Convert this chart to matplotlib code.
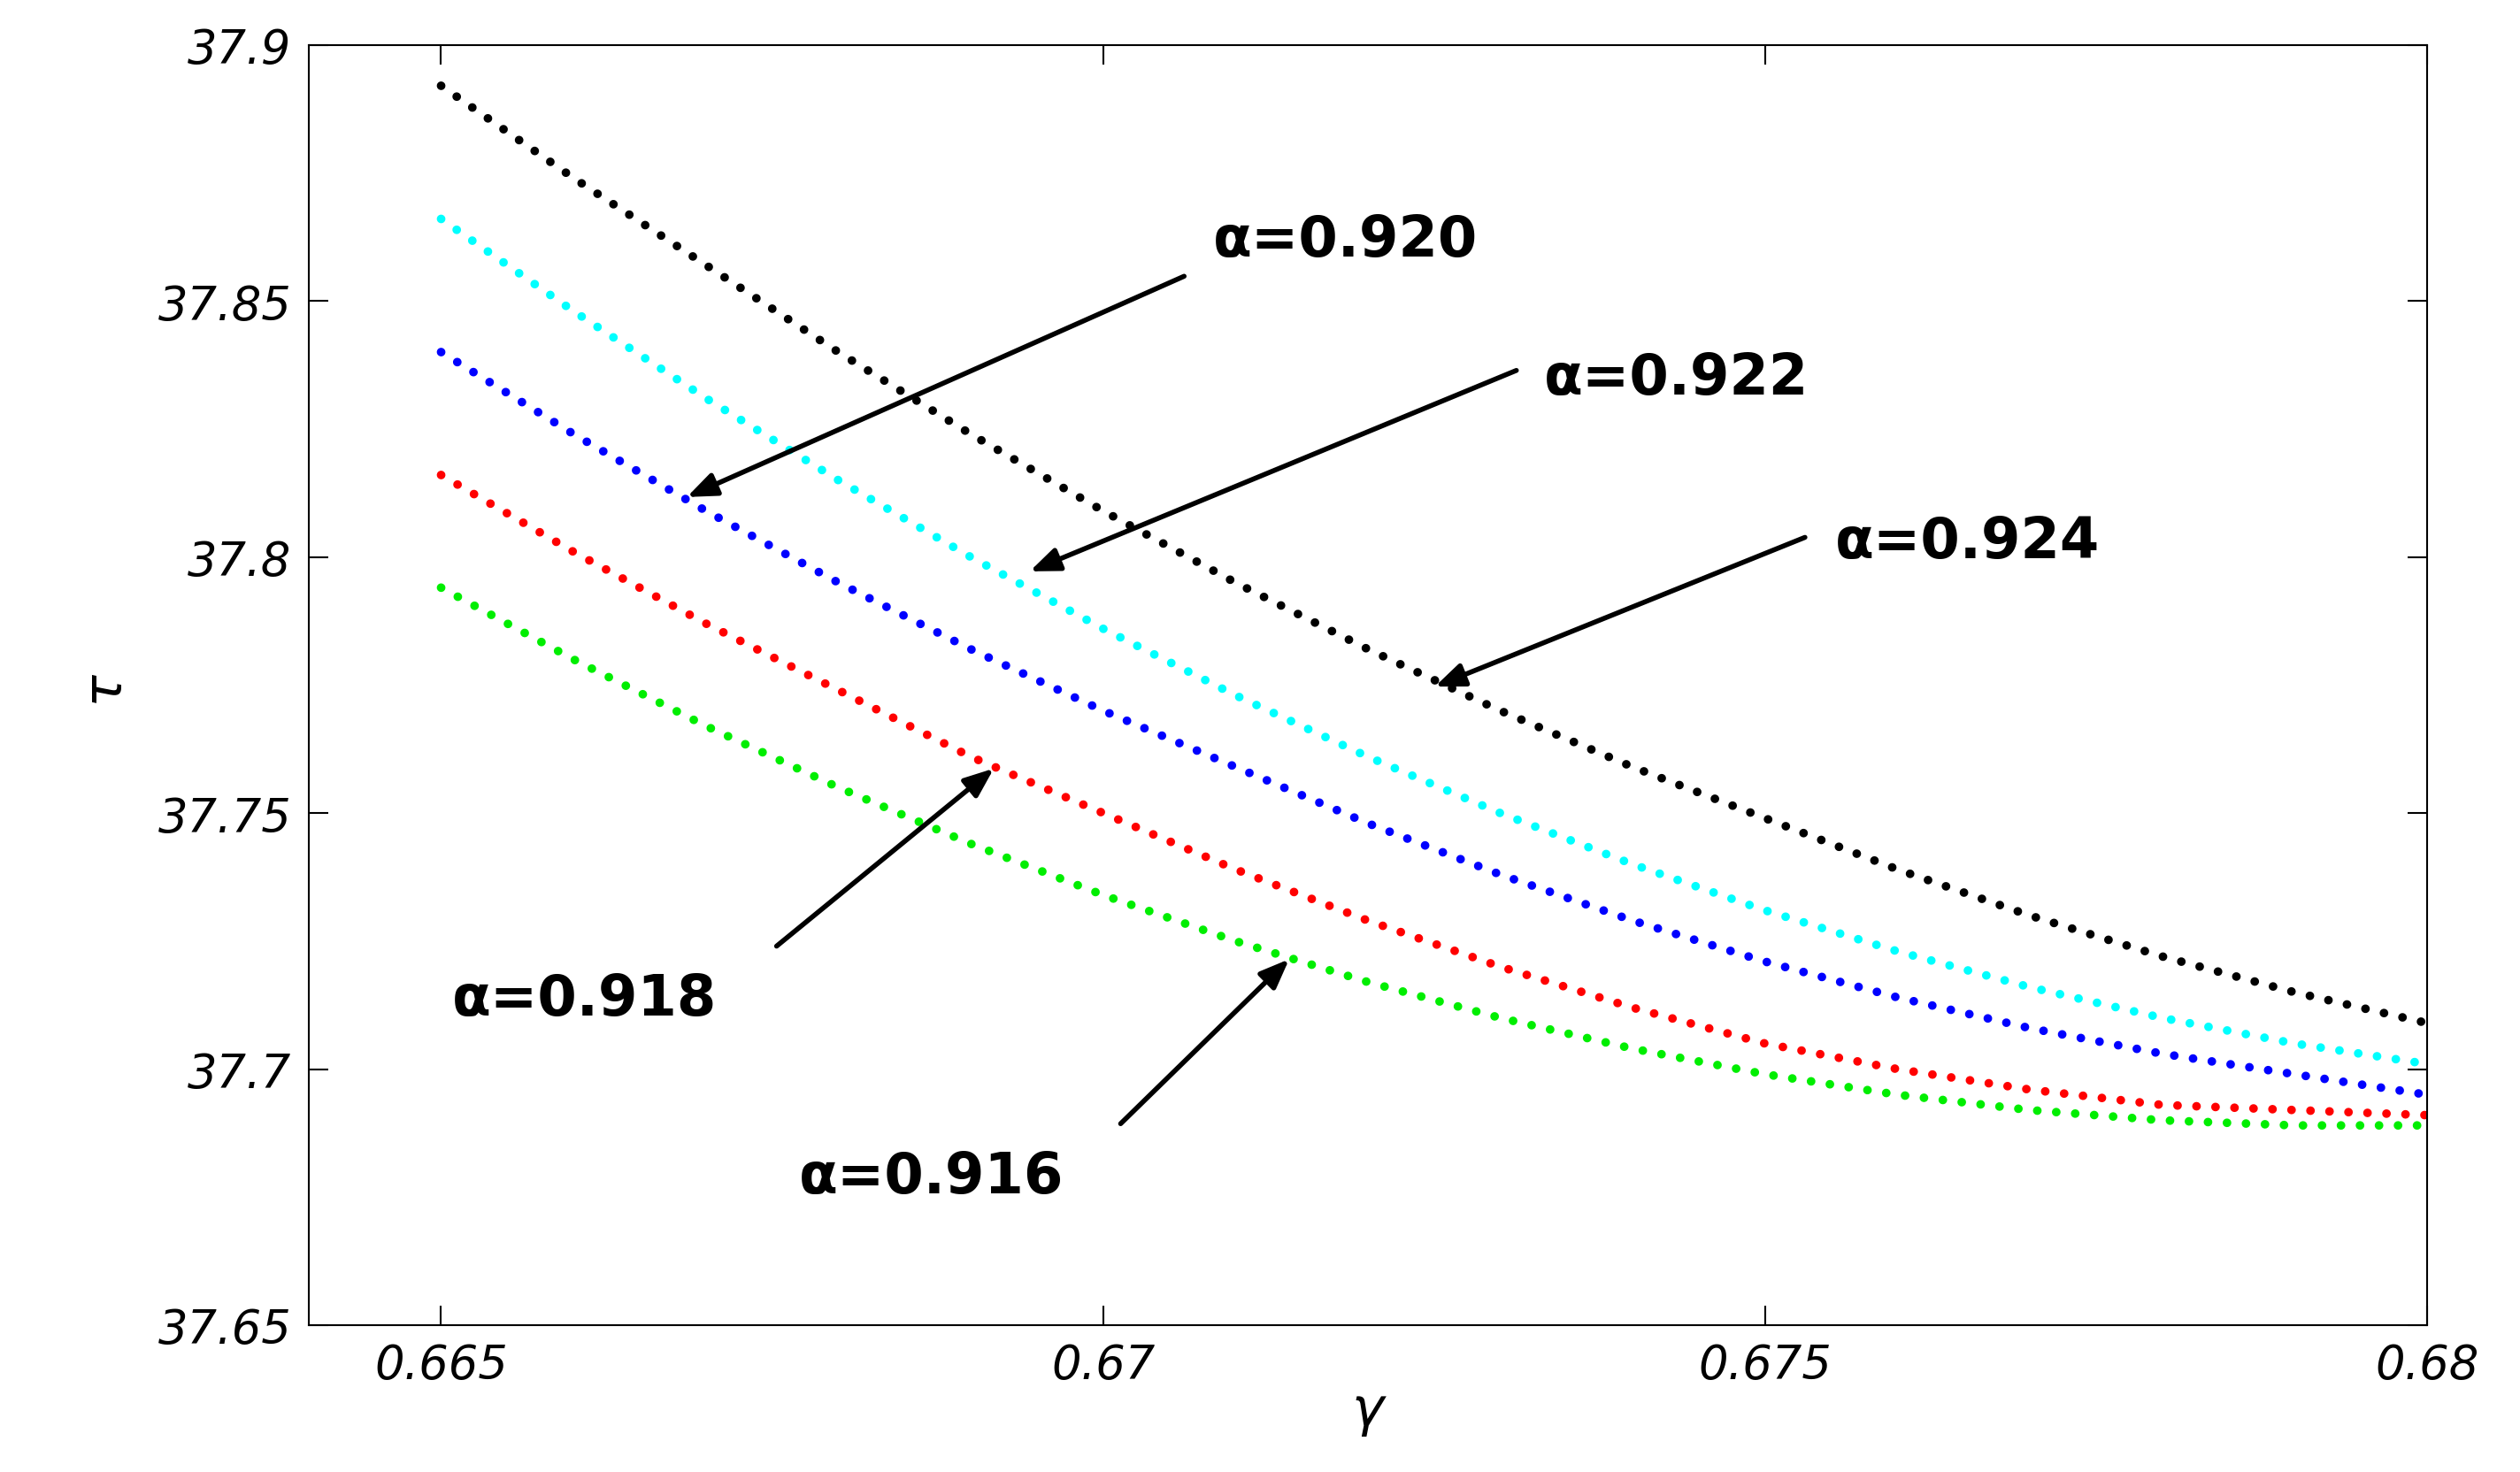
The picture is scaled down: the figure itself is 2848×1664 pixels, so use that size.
import matplotlib
matplotlib.use("Agg")
import matplotlib.pyplot as plt

gamma = [0.665,0.666,0.667,0.668,0.669,0.670,0.671,0.672,0.673,0.674,0.675,0.676,0.677,0.678,0.679,0.680]
tau_0924 = [37.892,37.874,37.857,37.840,37.824,37.809,37.795,37.782,37.770,37.759,37.749,37.739,37.730,37.722,37.715,37.709]
tau_0922 = [37.866,37.848,37.831,37.815,37.800,37.786,37.773,37.761,37.750,37.740,37.731,37.723,37.716,37.710,37.705,37.701]
tau_0920 = [37.840,37.824,37.809,37.795,37.782,37.770,37.759,37.748,37.738,37.729,37.721,37.714,37.708,37.703,37.699,37.695]
tau_0918 = [37.816,37.801,37.787,37.774,37.761,37.750,37.739,37.729,37.720,37.712,37.705,37.700,37.696,37.693,37.692,37.691]
tau_0916 = [37.794,37.780,37.767,37.755,37.744,37.734,37.725,37.717,37.710,37.704,37.699,37.695,37.692,37.690,37.689,37.689]
series = [(tau_0924,'black'),(tau_0922,'cyan'),(tau_0920,'blue'),(tau_0918,'red'),(tau_0916,'#00ee00')]
labels = ['α=0.920','α=0.922','α=0.924','α=0.918','α=0.916']
text_pos = [(0.67083,37.862),(0.67333,37.835),(0.67553,37.803),(0.66508,37.7137),(0.6677,37.679)]
arrow_tail = [(0.67063,37.855),(0.67314,37.8366),(0.67532,37.804),(0.66752,37.7237),(0.67012,37.689)]
arrow_head = [(0.66684,37.8115),(0.66943,37.797),(0.67249,37.7745),(0.66919,37.759),(0.67142,37.7218)]

fig = plt.figure(figsize=(28.48,16.65), dpi=100)
ax = fig.add_axes([0.1225,0.0997,0.8405,0.8693])
for y,c in series:
    ax.plot(gamma,y,color=c,linestyle=(0,(0.01,2.2)),linewidth=7,dash_capstyle='round')
ax.set_xlim(0.664,0.68)
ax.set_ylim(37.65,37.9)
ax.set_xticks([0.665,0.67,0.675,0.68])
ax.set_xticklabels(['0.665','0.67','0.675','0.68'])
ax.set_yticks([37.65,37.7,37.75,37.8,37.85,37.9])
ax.set_yticklabels(['37.65','37.7','37.75','37.8','37.85','37.9'])
ax.tick_params(direction='in',length=16,width=1.5,top=True,right=True,labelsize=38,pad=14)
for l in ax.get_xticklabels()+ax.get_yticklabels():
    l.set_fontstyle('italic')
for s in ax.spines.values():
    s.set_linewidth(1.5)
ax.set_xlabel('γ',fontsize=44,fontstyle='italic',labelpad=-4)
ax.set_ylabel('τ',fontsize=44,fontstyle='italic',labelpad=24)
for t,p,tl,hd in zip(labels,text_pos,arrow_tail,arrow_head):
    ax.text(p[0],p[1],t,fontsize=46,fontweight='bold',va='center',ha='left')
    ax.annotate('',xy=hd,xytext=tl,arrowprops=dict(arrowstyle='-|>,head_length=2.0,head_width=0.8',color='black',lw=4))
fig.savefig('out.png',dpi=100)
